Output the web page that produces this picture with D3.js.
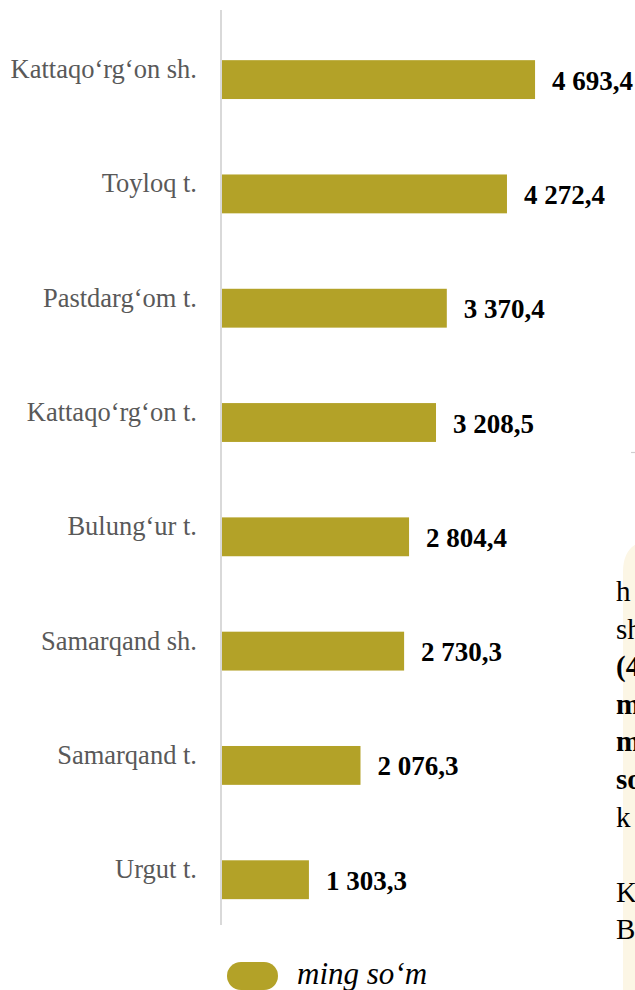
<!DOCTYPE html>
<html>
<head>
<meta charset="utf-8">
<script src="https://cdn.jsdelivr.net/npm/d3@7"></script>
<style>
  html, body { margin: 0; padding: 0; background: #fff; }
  svg { display: block; }
</style>
</head>
<body>
<svg id="chart" width="635" height="990"></svg>
<script>
// data
var districts = ["Kattaqo\u2018rg\u2018on sh.", "Toyloq t.", "Pastdarg\u2018om t.", "Kattaqo\u2018rg\u2018on t.",
                 "Bulung\u2018ur t.", "Samarqand sh.", "Samarqand t.", "Urgut t."];
var values = [4693.4, 4272.4, 3370.4, 3208.5, 2804.4, 2730.3, 2076.3, 1303.3];
var legendLabel = "ming so\u2018m";

// cut-off text of the page next to the chart
var sideLines = [{t: "h", b: false}, {t: "sh", b: false}, {t: "(4", b: true}, {t: "m", b: true},
                 {t: "m", b: true}, {t: "so", b: true}, {t: "k", b: false}, {t: "", b: false},
                 {t: "K", b: false}, {t: "B", b: false}];

var barColor = "#B3A228";
var serif = "'Liberation Serif', 'Times New Roman', serif";
var svg = d3.select("#chart");

// page background on the right
svg.append("path")
    .attr("d", "M623,990 L623,572 Q623,540 655,540 L640,540 L640,990 Z")
    .attr("fill", "#FCF6E5");
svg.append("line")
    .attr("x1", 631).attr("x2", 636).attr("y1", 452.5).attr("y2", 452.5)
    .attr("stroke", "#cfcfcf").attr("stroke-width", 1.2);

svg.selectAll("text.side")
    .data(sideLines)
    .join("text")
    .attr("class", "side")
    .attr("x", 616)
    .attr("y", (d, i) => 601 + i * 37.6)
    .style("font-family", serif)
    .style("font-size", "29px")
    .style("font-weight", d => d.b ? "bold" : "normal")
    .attr("fill", "#000")
    .text(d => d.t);

// scales
var x = d3.scaleLinear().domain([0, 5000]).range([222, 555.5]);
var y = d3.scaleBand().domain(districts).range([10, 925])
            .paddingInner(0.66).paddingOuter(0.3325).align(0.66);

// axis line
svg.append("line")
    .attr("x1", 221).attr("x2", 221)
    .attr("y1", y.range()[0]).attr("y2", y.range()[1])
    .attr("stroke", "#D9D9D9").attr("stroke-width", 2);

// bars
svg.selectAll("rect.bar")
    .data(values)
    .join("rect")
    .attr("class", "bar")
    .attr("x", x(0))
    .attr("y", (d, i) => y(districts[i]))
    .attr("width", d => x(d) - x(0))
    .attr("height", y.bandwidth())
    .attr("fill", barColor);

// category labels
svg.selectAll("text.cat")
    .data(districts)
    .join("text")
    .attr("class", "cat")
    .attr("x", 197)
    .attr("y", d => y(d) + y.bandwidth() / 2 - 1.5)
    .attr("text-anchor", "end")
    .style("font-family", serif)
    .style("font-size", "26.5px")
    .attr("fill", "#595959")
    .text(d => d);

// value labels
var fmt = v => {
    var parts = v.toFixed(1).split(".");
    return parts[0].replace(/\B(?=(\d{3})+(?!\d))/g, " ") + "," + parts[1];
};
svg.selectAll("text.val")
    .data(values)
    .join("text")
    .attr("class", "val")
    .attr("x", d => x(d) + 17)
    .attr("y", (d, i) => y(districts[i]) + y.bandwidth() / 2 + 10)
    .style("font-family", serif)
    .style("font-size", "27px")
    .style("font-weight", "bold")
    .attr("fill", "#000")
    .text(d => fmt(d));

// legend
svg.append("rect")
    .attr("x", 227).attr("y", 962)
    .attr("width", 51).attr("height", 28)
    .attr("rx", 14).attr("ry", 14)
    .attr("fill", barColor);
svg.append("text")
    .attr("x", 297).attr("y", 984)
    .style("font-family", serif)
    .style("font-size", "31px")
    .style("font-style", "italic")
    .attr("fill", "#000")
    .text(legendLabel);
</script>
</body>
</html>
